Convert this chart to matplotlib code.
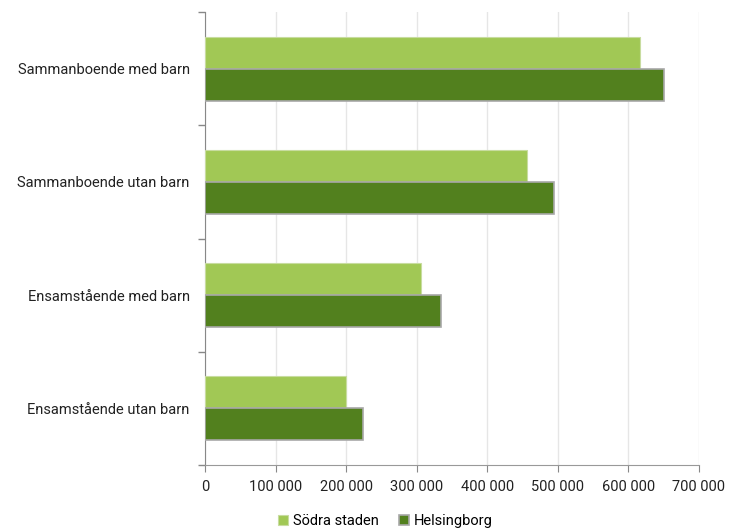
import matplotlib
matplotlib.use("Agg")
import matplotlib.pyplot as plt
from matplotlib.ticker import FuncFormatter, FixedLocator
import numpy as np

plt.rcParams['font.family'] = ['Roboto', 'DejaVu Sans']

categories = ["Sammanboende med barn", "Sammanboende utan barn",
              "Ensamstående med barn", "Ensamstående utan barn"]
sodra_staden = [616000, 456000, 306000, 200000]
helsingborg = [650000, 494000, 334000, 224000]
series_names = ["Södra staden", "Helsingborg"]

light = "#a1c855"
dark = "#52801e"

fig = plt.figure(figsize=(7.34, 5.32), dpi=100)
ax = fig.add_axes([205 / 734, 1 - 465 / 532, 494 / 734, 453 / 532])

y = np.arange(len(categories))
h = 0.283
ax.barh(y - h / 2, sodra_staden, height=h, color=light, edgecolor="#c8dca0",
        linewidth=0.8, label=series_names[0], zorder=3)
ax.barh(y + h / 2, helsingborg, height=h, color=dark, edgecolor="#a8a8a8",
        linewidth=1.2, label=series_names[1], zorder=3)

ax.set_ylim(len(categories) - 0.5, -0.5)
ax.set_xlim(0, 700000)
ax.set_xticks(np.arange(0, 700001, 100000))
ax.xaxis.set_major_formatter(FuncFormatter(lambda v, p: f"{int(v):,}".replace(",", " ")))
ax.set_yticks(y)
ax.set_yticklabels(categories)
ax.yaxis.set_minor_locator(FixedLocator(np.arange(-0.5, len(categories), 1.0)))
ax.tick_params(axis="y", which="major", length=0, pad=11, labelsize=10.5, labelcolor="#222222")
ax.tick_params(axis="y", which="minor", length=5, color="#888888", width=1)
ax.tick_params(axis="x", which="major", length=5, color="#888888", labelsize=10.5,
               labelcolor="#222222", pad=6)

ax.grid(axis="x", color="#e6e6e6", linewidth=1, zorder=0)
for s in ["top", "right"]:
    ax.spines[s].set_visible(False)
ax.spines["left"].set_color("#888888")
ax.spines["bottom"].set_color("#999999")

fig.legend(loc="lower center", bbox_to_anchor=(0.525, -0.018), ncol=2, frameon=False,
           fontsize=10.5, handlelength=0.7, handleheight=0.7, handletextpad=0.3,
           columnspacing=1.4)

fig.savefig("out.png", dpi=100)
